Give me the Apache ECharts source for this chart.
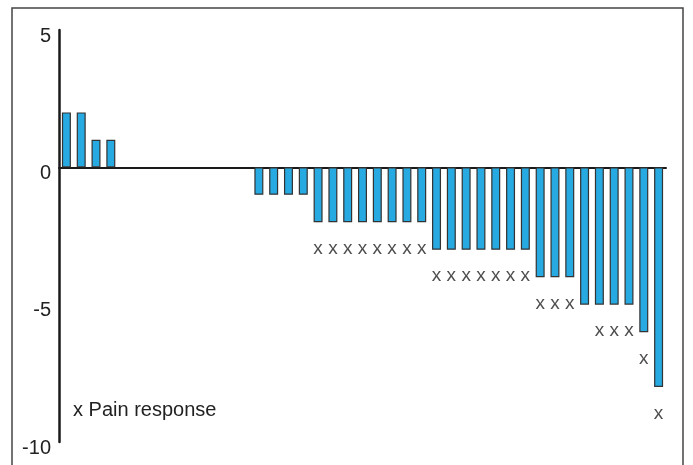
<!DOCTYPE html>
<html>
<head>
<meta charset="utf-8">
<script src="https://cdn.jsdelivr.net/npm/echarts@6/dist/echarts.min.js"></script>
<style>
  html, body { margin: 0; padding: 0; background: #fff; }
  #chart { width: 693px; height: 465px; }
</style>
</head>
<body>
<div id="chart"></div>
<script>
// patients, sorted by change in score
const patients = [
  "1", "2", "3", "4", "5", "6", "7", "8", "9", "10",
  "11", "12", "13", "14", "15", "16", "17", "18", "19", "20",
  "21", "22", "23", "24", "25", "26", "27", "28", "29", "30",
  "31", "32", "33", "34", "35", "36", "37", "38", "39", "40", "41"
];
const change = [
  2, 2, 1, 1, 0, 0, 0, 0, 0, 0,
  0, 0, 0, -1, -1, -1, -1, -2, -2, -2,
  -2, -2, -2, -2, -2, -3, -3, -3, -3, -3,
  -3, -3, -4, -4, -4, -5, -5, -5, -5, -6, -8
];
// 1 = pain response
const painResponse = [
  0, 0, 0, 0, 0, 0, 0, 0, 0, 0,
  0, 0, 0, 0, 0, 0, 0, 1, 1, 1,
  1, 1, 1, 1, 1, 1, 1, 1, 1, 1,
  1, 1, 1, 1, 1, 0, 1, 1, 1, 1, 1
];
const yTicks = { min: -10, max: 5, step: 5 };

const font = "'Liberation Sans', Arial, sans-serif";

// x marks under the bars that had a pain response
const marks = [];
change.forEach(function (v, i) {
  if (painResponse[i]) marks.push([i, v]);
});

// zero bars would still show their border, so drop it for those
const barData = change.map(function (v) {
  return v === 0 ? { value: v, itemStyle: { borderWidth: 0 } } : v;
});

const chart = echarts.init(document.getElementById("chart"));
chart.setOption({
  animation: false,
  grid: { left: 59, right: 27, top: 30, bottom: 23 },
  xAxis: {
    type: "category",
    data: patients,
    axisLine: { onZero: true, lineStyle: { color: "#1a1a1a", width: 2 } },
    axisTick: { show: false },
    axisLabel: { show: false },
    splitLine: { show: false },
  },
  yAxis: {
    type: "value",
    min: yTicks.min,
    max: yTicks.max,
    interval: yTicks.step,
    axisLine: { show: true, lineStyle: { color: "#1a1a1a", width: 2.5 } },
    axisTick: { show: false },
    splitLine: { show: false },
    axisLabel: {
      color: "#222",
      fontSize: 20,
      fontFamily: font,
      margin: 8,
      verticalAlign: "top",
      lineHeight: 12,
    },
  },
  graphic: [
    {
      type: "rect",
      shape: { x: 12, y: 8, width: 671, height: 470 },
      style: { fill: "none", stroke: "#444", lineWidth: 1.5 },
      silent: true,
    },
    {
      type: "text",
      left: 73,
      top: 400,
      style: {
        text: "x Pain response",
        fill: "#222",
        font: "20px " + font,
      },
    },
  ],
  series: [
    {
      type: "bar",
      data: barData,
      barWidth: 9,
      itemStyle: { color: "#27a9e1", borderColor: "#333", borderWidth: 1.2 },
    },
    {
      type: "scatter",
      data: marks,
      symbolSize: 0,
      label: {
        show: true,
        formatter: "x",
        position: "bottom",
        distance: 17,
        color: "#222",
        fontSize: 19,
        fontFamily: font,
      },
    },
  ],
});
</script>
</body>
</html>
